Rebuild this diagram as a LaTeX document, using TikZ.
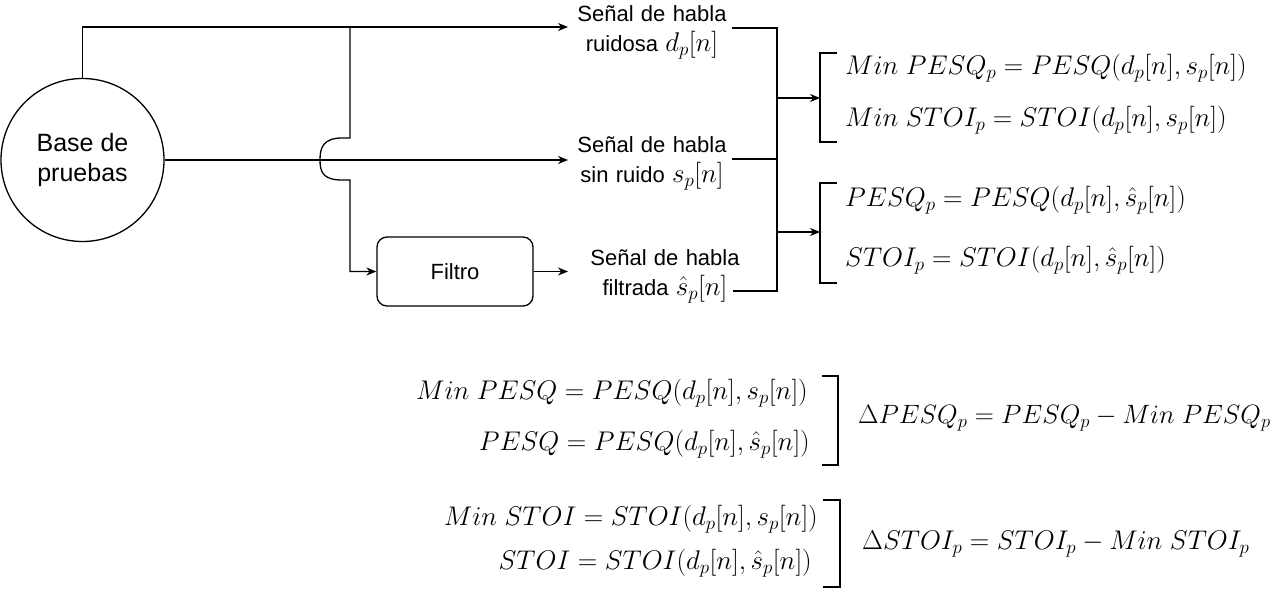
\RequirePackage{fix-cm}
\documentclass[tikz,border=0pt]{standalone}
\usepackage{fontspec}
\setmainfont{Liberation Sans}
\usetikzlibrary{arrows.meta}
\newcommand\lm[1]{{\fontsize{27}{30}\selectfont$#1$}}
\begin{document}
\begin{tikzpicture}[x=1pt,y=-1pt,
  conn/.style={line width=1.3pt},
  arr/.style={conn,-{Stealth[length=10pt,width=8pt]}},
  lbl/.style={align=center,font=\fontsize{22}{30}\selectfont,inner sep=0pt},
  eq/.style={font=\fontsize{27}{30}\selectfont,inner sep=0pt},
  brk/.style={line width=2.2pt}]
\useasboundingbox (0,0) rectangle (1277,591);

\node[draw,conn,circle,minimum size=163pt,align=center,font=\fontsize{25}{30}\selectfont] (base) at (82.5,160) {Base de\\pruebas};

\node[lbl,text width=160pt] (l1) at (652,32) {Señal de habla\\ruidosa \lm{d_p[n]}};
\node[lbl,text width=160pt] (l2) at (652,163) {Señal de habla\\sin ruido \lm{s_p[n]}};
\node[lbl,text width=150pt] (l3) at (665,276) {Señal de habla\\filtrada \lm{\hat{s}_p[n]}};

\node[draw,conn,rounded corners=10pt,minimum width=156pt,minimum height=69pt,font=\fontsize{22}{26}\selectfont] (filt) at (455,271.5) {Filtro};

\coordinate (t1) at (568,27);
\coordinate (t2) at (568,160);
\coordinate (sp) at (350,27);
\coordinate (b1) at (350,138);
\coordinate (b2) at (350,180);
\draw[arr] (base.north) |- (t1);
\draw[arr] (base.east) -- (t2);
\draw[arr] (sp) -- (b1) -- (342,138) .. controls (323,138) and (320,148) .. (320,160) .. controls (320,172) and (323,180) .. (342,180) -- (b2) |- (filt.west);
\draw[arr] (filt.east) -- (filt.east -| t2);

\coordinate (bt) at (777,28);
\coordinate (bm) at (777,159);
\coordinate (bb) at (777,291);
\coordinate (l3o) at (733,291);
\coordinate (k1) at (777,98);
\coordinate (k2) at (777,232);
\coordinate (q1) at (820,98);
\coordinate (q2) at (820,232);
\draw[conn] (bt -| l1.east) -- (bt) -- (bb) -- (l3o);
\draw[conn] (bm -| l2.east) -- (bm);
\draw[arr] (k1) -- (q1);
\draw[arr] (k2) -- (q2);

\draw[brk] (837,53) -- (820,53) -- (820,142) -- (837,142);
\draw[brk] (837,183) -- (820,183) -- (820,283) -- (837,283);

\node[eq,anchor=west] (e1) at (845,68) {$Min\ PESQ_p = PESQ(d_p[n], s_p[n])$};
\node[eq,anchor=west] (e2) at (845,120) {$Min\ STOI_p = STOI(d_p[n], s_p[n])$};
\node[eq,anchor=west] (e3) at (845,200) {$PESQ_p = PESQ(d_p[n], \hat{s}_p[n])$};
\node[eq,anchor=west] (e4) at (845,260) {$STOI_p = STOI(d_p[n], \hat{s}_p[n])$};

\node[eq,anchor=east] (f1) at (808,393) {$Min\ PESQ = PESQ(d_p[n], s_p[n])$};
\node[eq,anchor=east] (f2) at (810,444) {$PESQ = PESQ(d_p[n], \hat{s}_p[n])$};
\node[eq,anchor=west,font=\fontsize{26.5}{30}\selectfont] (f3) at (858,418) {$\Delta PESQ_p = PESQ_p - Min\ PESQ_p$};
\draw[brk] (822,376) -- (838,376) -- (838,465) -- (822,465);

\node[eq,anchor=east] (g1) at (818,519) {$Min\ STOI = STOI(d_p[n], s_p[n])$};
\node[eq,anchor=east] (g2) at (812,563) {$STOI = STOI(d_p[n], \hat{s}_p[n])$};
\node[eq,anchor=west] (g3) at (862,544) {$\Delta STOI_p = STOI_p - Min\ STOI_p$};
\draw[brk] (823,500) -- (840,500) -- (840,587) -- (823,587);
\end{tikzpicture}
\end{document}
